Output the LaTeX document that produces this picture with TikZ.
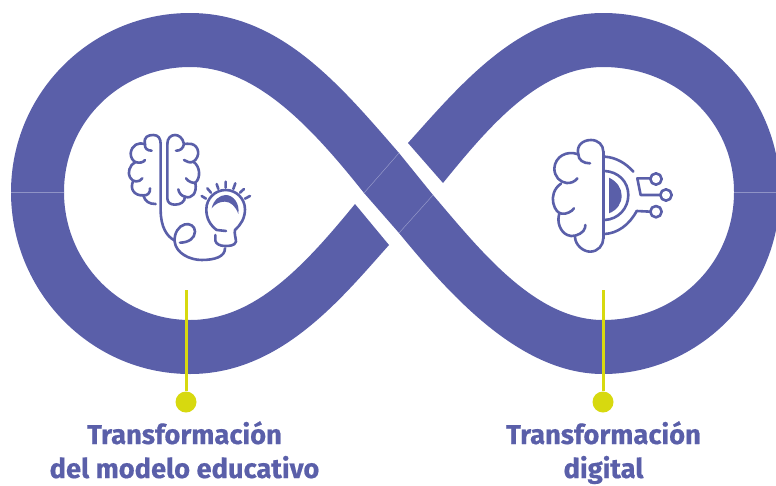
\documentclass[tikz,border=0pt]{standalone}
\usepackage{fontspec}
\setmainfont{Fira Sans}[BoldFeatures={FakeBold=0.5}]
\definecolor{ribbon}{HTML}{5A5FA9}
\definecolor{seam}{HTML}{8F93C6}
\definecolor{lime}{HTML}{D7D90F}
\tikzset{
  band/.style={fill=ribbon,draw=none},
  seamline/.style={draw=seam,line width=0.5pt},
  icon/.style={draw=ribbon,line width=2.6pt,line cap=round,line join=round,fill=none},
  iconfill/.style={fill=ribbon,draw=none},
  leader/.style={draw=lime,line width=3pt},
  dotnode/.style={circle,fill=lime,minimum size=21pt,inner sep=0pt},
  anchorpt/.style={inner sep=0pt,minimum size=0pt},
  caption/.style={text=ribbon,font=\fontsize{27.3}{37}\selectfont\bfseries,inner sep=0pt,anchor=base}
}
\begin{document}
\begin{tikzpicture}[x=1pt,y=-1pt]
\useasboundingbox (0,0) rectangle (776,485);
% ribbon
\fill[band] (11,192) .. controls (11,93) and (91,13) .. (190,13) .. controls (280,13) and (340,85) .. (399,153) -- (364,193) .. controls (310,125) and (255,67) .. (190,67) .. controls (120,67) and (64,122) .. (64,192) -- cycle;
\fill[band] (11,192) .. controls (11,292) and (91,374) .. (190,374) .. controls (280,374) and (340,300) .. (389,245) -- (355,204) .. controls (305,265) and (255,320) .. (190,320) .. controls (120,320) and (64,262) .. (64,192) -- cycle;
\fill[band] (399,153) -- (364,193) -- (399,233) -- (433,195) -- cycle;
\fill[band] (399,233) .. controls (450,295) and (520,374) .. (603,374) .. controls (700,374) and (780,292) .. (780,192) -- (734,192) .. controls (734,265) and (675,320) .. (603,320) .. controls (535,320) and (480,250) .. (433,195) -- cycle;
\fill[band] (408,143) .. controls (460,85) and (520,13) .. (603,13) .. controls (700,13) and (780,93) .. (780,192) -- (734,192) .. controls (734,120) and (675,67) .. (603,67) .. controls (540,67) and (490,125) .. (443,183) -- cycle;
% seams
\draw[seamline] (11,192) -- (64,192);
\draw[seamline] (734,192) -- (776,192);
\draw[seamline] (399,153) -- (364,193);
\draw[seamline] (433,195) -- (399,233);
% left icon
\begin{scope}[shift={(110,120)},x=0.3333pt,y=-0.3333pt]
\draw[icon] (125,92) .. controls (112,92) and (103,85) .. (105,72) .. controls (100,50) and (115,45) .. (130,45) .. controls (145,45) and (152,55) .. (152,72) -- (152,270) .. controls (152,320) and (170,350) .. (195,362);
\draw[icon] (105,73) .. controls (85,65) and (65,75) .. (62,100) .. controls (62,112) and (68,122) .. (76,126) .. controls (88,130) and (100,128) .. (105,120);
\draw[icon] (76,126) .. controls (58,135) and (52,160) .. (60,172) .. controls (68,188) and (88,188) .. (97,175);
\draw[icon] (70,183) .. controls (58,205) and (72,228) .. (100,226) .. controls (112,228) and (122,218) .. (120,205);
\draw[icon] (100,226) .. controls (105,245) and (118,252) .. (137,252);
\draw[icon] (172,72) -- (172,235) .. controls (172,248) and (182,254) .. (195,254) .. controls (212,254) and (225,245) .. (225,230) .. controls (215,228) and (207,220) .. (205,208);
\draw[icon] (225,230) .. controls (245,238) and (262,220) .. (256,188) .. controls (248,190) and (235,185) .. (228,175);
\draw[icon] (256,188) .. controls (272,175) and (272,140) .. (250,125) .. controls (240,130) and (230,125) .. (222,120);
\draw[icon] (250,125) .. controls (272,110) and (268,78) .. (245,72) .. controls (235,70) and (228,72) .. (222,72) .. controls (220,85) and (210,93) .. (198,92);
\draw[icon] (222,72) .. controls (218,52) and (205,45) .. (195,45) .. controls (182,45) and (172,55) .. (172,72);
\draw[icon] (210,368) .. controls (235,368) and (255,355) .. (255,335) .. controls (255,318) and (240,310) .. (225,313) .. controls (205,318) and (192,340) .. (194,365) .. controls (198,400) and (240,420) .. (275,420) .. controls (315,420) and (345,410) .. (345,385);
\draw[icon] (320,330) .. controls (300,315) and (289,295) .. (289,268) .. controls (289,236) and (315,210) .. (347,210) .. controls (379,210) and (405,236) .. (405,268) .. controls (405,295) and (392,315) .. (375,330) .. controls (372,340) and (378,355) .. (378,365) .. controls (375,378) and (355,378) .. (345,378) .. controls (330,378) and (318,372) .. (316,362) -- (316,345);
\draw[icon] (320,330) -- (348,333);
\draw[icon] (275,228) -- (288,236) (292,205) -- (303,218) (320,192) -- (325,207) (347,185) -- (347,203) (376,190) -- (370,207) (402,207) -- (390,218) (420,228) -- (405,236);
\fill[iconfill] (305,265) .. controls (310,240) and (330,225) .. (347,225) .. controls (370,225) and (390,250) .. (385,282) .. controls (378,260) and (362,245) .. (345,245) .. controls (328,245) and (315,252) .. (305,265) -- cycle;
\end{scope}
% right icon
\begin{scope}[shift={(530,125)},x=0.3333pt,y=-0.3333pt]
\draw[icon] (220,80) -- (220,340);
\draw[icon] (180,115) .. controls (160,115) and (145,105) .. (145,88) .. controls (138,62) and (158,45) .. (183,45) .. controls (205,45) and (220,60) .. (220,80);
\draw[icon] (145,88) .. controls (110,75) and (75,95) .. (73,130) .. controls (73,155) and (90,172) .. (110,174) .. controls (122,175) and (135,170) .. (142,160);
\draw[icon] (93,176) .. controls (72,190) and (65,215) .. (70,235) .. controls (75,255) and (85,265) .. (95,266) .. controls (110,268) and (125,260) .. (132,250);
\draw[icon] (88,266) .. controls (80,290) and (90,320) .. (112,330) .. controls (125,338) and (150,330) .. (160,318) .. controls (165,310) and (167,305) .. (166,300);
\draw[icon] (135,335) .. controls (135,360) and (160,380) .. (180,380) .. controls (205,380) and (220,360) .. (220,340);
\draw[icon] (224,95) .. controls (258,97) and (288,115) .. (310,140);
\draw[icon] (224,327) .. controls (262,325) and (298,300) .. (320,258);
\draw[icon] (224,138) .. controls (265,140) and (295,170) .. (295,210) .. controls (295,250) and (265,283) .. (224,285);
\fill[iconfill] (237,158) .. controls (262,170) and (275,190) .. (275,212) .. controls (275,235) and (262,255) .. (237,265) -- cycle;
\draw[icon] (378,162) circle (17);
\draw[icon] (408,210) circle (17);
\draw[icon] (378,260) circle (17);
\draw[icon] (361,160) -- (322,160) -- (332,210) -- (391,210);
\draw[icon] (361,260) -- (320,258);
\end{scope}
% leaders
\node[anchorpt] (topA) at (186,290) {};
\node[dotnode] (dotA) at (186,402) {};
\node[anchorpt] (topB) at (603,290) {};
\node[dotnode] (dotB) at (603,402) {};
\draw[leader] (topA) -- (dotA);
\draw[leader] (topB) -- (dotB);
% captions
\node[caption] (capA) at (184.5,444) {Transformación};
\node[caption] (capA2) at (184.5,478) {del modelo educativo};
\node[caption] (capB) at (603.5,444) {Transformación};
\node[caption] (capB2) at (603.5,478) {digital};
\end{tikzpicture}
\end{document}
